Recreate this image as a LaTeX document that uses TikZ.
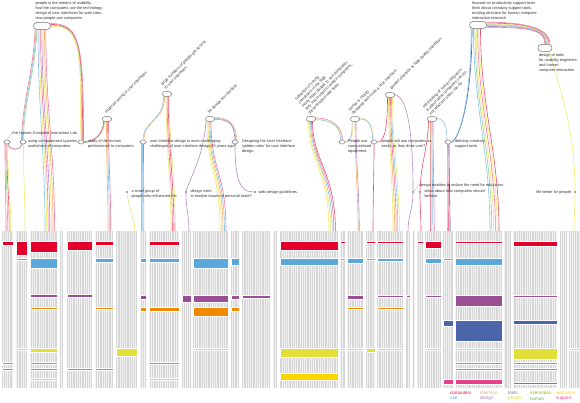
\documentclass[tikz,border=0pt]{standalone}
\usepackage{fontspec}
\newfontfamily\labfont{Liberation Sans}
\usetikzlibrary{calc}
\pgfdeclarelayer{bg}
\pgfsetlayers{bg,main}
\definecolor{pinkS}{HTML}{F07AA0}
\definecolor{redS}{HTML}{E8506E}
\definecolor{blueS}{HTML}{8CC6EA}
\definecolor{yellowS}{HTML}{F2EA70}
\definecolor{greenS}{HTML}{9ED08E}
\definecolor{orangeS}{HTML}{F5B56A}
\definecolor{purpleS}{HTML}{BB88C8}
\definecolor{navyS}{HTML}{3E5BA8}
\definecolor{cRed}{HTML}{E2002B}
\definecolor{cBlue}{HTML}{5BA7D9}
\definecolor{cPurple}{HTML}{9A4E94}
\definecolor{cOrange}{HTML}{F18A00}
\definecolor{cNavy}{HTML}{4A66A8}
\definecolor{cYellow}{HTML}{E3DF3A}
\definecolor{cOlive}{HTML}{B3A800}
\definecolor{cGreen}{HTML}{6AAF5B}
\definecolor{cGold}{HTML}{FDD300}
\definecolor{cPink}{HTML}{E6428B}
\definecolor{colbg}{HTML}{F2F2F2}
\definecolor{stripec}{HTML}{D6D6D6}
\definecolor{pillc}{HTML}{707070}
\definecolor{txtc}{HTML}{333333}
\newcommand\labf{\labfont\fontsize{3.9}{4.8}\selectfont}
\newcommand\legf{\labfont\fontsize{4.6}{5.2}\selectfont}
\newcommand\strandbundle[9]{%
  \foreach \bcol [count=\bidx from 0] in {#9}{%
    \pgfmathsetmacro\sxa{\bidx*(#2)}%
    \pgfmathsetmacro\sya{\bidx*(#3)}%
    \pgfmathsetmacro\sxb{\bidx*(#7)}%
    \pgfmathsetmacro\syb{\bidx*(#8)}%
    \draw[strand,\bcol] ([shift={(\sxa,\sya)}]#1) .. controls +#4 and +#5 .. ([shift={(\sxb,\syb)}]#6);
  }}
\tikzset{
  pillbase/.style={draw=pillc, fill=white, line width=0.5pt, inner sep=0pt},
  bigpill/.style={pillbase, minimum width=17pt, minimum height=7pt, rounded corners=3.4pt},
  midpill/.style={pillbase, minimum width=9pt, minimum height=4.6pt, rounded corners=2.2pt},
  smallpill/.style={pillbase, minimum width=6.5pt, minimum height=3.6pt, rounded corners=1.7pt},
  marker/.style={fill=gray!70, minimum size=2.2pt, inner sep=0pt},
  lab/.style={font=\labf, text=txtc, inner sep=0.3pt, align=left},
  rlab/.style={lab, rotate=45, anchor=south west},
  legend/.style={font=\legf, inner sep=0.3pt, anchor=west},
  strand/.style={line width=0.6pt, line cap=round},
  leader/.style={draw=gray!60, line width=0.3pt},
  stripe/.style={draw=stripec, line width=0.5pt},
}
\begin{document}
\begin{tikzpicture}[x=1pt,y=-1pt]
\useasboundingbox (0,0) rectangle (580,403);
% ---------- pills ----------
\node[bigpill] (top1) at (42,26) {};
\node[smallpill] (hci) at (7,142) {};
\node[smallpill] (using) at (23,142) {};
\node[smallpill] (study) at (81,142) {};
\node[midpill] (might) at (107,119) {};
\node[midpill] (large) at (167,94) {};
\node[smallpill] (ui) at (143,142) {};
\node[midpill] (forD) at (210,119) {};
\node[smallpill] (golden) at (235,142) {};
\node[midpill] (coll) at (311,119) {};
\node[midpill] (sense) at (355,119) {};
\node[midpill] (greater) at (390,95) {};
\node[smallpill] (people) at (342,142) {};
\node[smallpill] (cars) at (374,142) {};
\node[midpill] (old) at (432,119) {};
\node[smallpill] (defin) at (448,142) {};
\node[bigpill] (focused) at (478,25) {};
\node[bigpill, minimum width=14pt] (tools) at (545,48) {};
% ---------- markers ----------
\node[marker] (small) at (127,192) {};
\node[marker] (rules) at (186,192) {};
\node[marker] (web) at (255,192) {};
\node[marker] (educ) at (413,192) {};
\node[marker] (ideas) at (420,192) {};
\node[marker] (life) at (575,192) {};
% ---------- labels ----------
\node[lab, anchor=north west] (top1lab) at (35,1.5) {people in the notions of usability.\\how the computers use the technology\\design of user interfaces for web sites.\\how people use computers.};
\node[lab, anchor=west] (hcilab) at (12,133) {the Human-Computer Interaction Lab.};
\node[lab, anchor=north west] (usinglab) at (27.5,139.5) {using computerized systems\\usefulness of computers.};
\node[lab, anchor=north west] (studylab) at (87.5,139.5) {study of the human\\performance to computers.};
\node[rlab] (mightlab) at (107,115) {might be wrong in user interfaces};
\node[rlab] (largelab) at (166,90) {large numbers of people get access\\to user interfaces};
\node[lab, anchor=north west] (uilab) at (149.5,139.5) {user interface design is most challenging\\challenges of user interface design 25 years ago?};
\node[rlab] (forDlab) at (210,115) {for design the interface};
\node[lab, anchor=north west] (goldenlab) at (241.5,139.5) {Designing the User Interface'\\'golden rules' for user interface\\design.};
\node[lab, anchor=north west] (smalllab) at (131,189.5) {a small group of\\people who influenced me};
\node[lab, anchor=north west] (ruleslab) at (190,189.5) {design rules\\to resolve issues of personal taste?};
\node[lab, anchor=west] (weblab) at (258,192) {web design guidelines.};
\node[rlab] (colllab) at (310,115) {collection of young\\computers in the high\\many more people to use computers\\very much need to realize computers,\\dissemination with them};
\node[rlab] (senselab) at (354,116) {Sense is mostly\\designed and it has a nice interface};
\node[rlab] (greaterlab) at (392,91) {greater attention to high quality interfaces};
\node[lab, anchor=north west] (peoplelab) at (347.5,139.5) {People use\\computerized\\equipment.};
\node[lab, anchor=north west] (carslab) at (381,139.5) {people will use computers as\\easily as they drive cars?};
\node[rlab] (oldlab) at (431,116) {old thinking of using computers\\is about what computers can do,\\not what the users can do};
\node[lab, anchor=north west] (focusedlab) at (471.5,1.5) {focused on productivity support tools\\think about creativity support tools,\\exciting direction for human computer\\interaction research};
\node[lab, anchor=north west] (toolslab) at (538.5,53.5) {design of tools\\for usability engineers\\and human\\computer interaction};
\node[lab, anchor=north west] (definlab) at (454.5,139.5) {defining creativity\\support tools};
\node[lab, anchor=west] (educlab) at (419,185) {design enables to reduce the need for education.};
\node[lab, anchor=north west] (ideaslab) at (424,189.5) {ideas about how computers should\\behave};
\node[lab, anchor=east] (lifelab) at (572.5,192) {life better for people.};
\draw[leader] (hci.north) -- (hcilab.west);
\draw[leader] (educ.north east) -- (educlab.west);
% ---------- legend ----------
\node[legend, text=cRed!80!pinkS] (lg1) at (449.5,393) {computers};
\node[legend, text=cBlue] (lg2) at (449.5,398.5) {use};
\node[legend, text=orangeS!80!cOrange] (lg3) at (479.5,393) {interface};
\node[legend, text=purpleS!80!cPurple] (lg4) at (479.5,398.5) {design};
\node[legend, text=gray!80!cNavy] (lg5) at (507.5,393) {tools};
\node[legend, text=cYellow] (lg6) at (507.5,398.5) {people};
\node[legend, text=cOlive] (lg7) at (529.5,393) {interaction};
\node[legend, text=cGreen] (lg8) at (529.5,398.5) {human};
\node[legend, text=cGold] (lg9) at (555.5,393) {web sites};
\node[legend, text=cPink] (lg10) at (555.5,398.5) {support};
% ---------- coordinates ----------
\coordinate (b1s) at ([xshift=-7pt]top1.south);
\coordinate (b1e) at ([xshift=-1.5pt]using.north);
\coordinate (b2s) at ([xshift=-4pt]top1.south);
\coordinate (e3) at (45,231);
\coordinate (b3s) at ([shift={(0,-2.5)}]top1.east);
\coordinate (b3e) at ([xshift=2.5pt]study.north);
\coordinate (b4s) at ([xshift=-1.5pt]using.south);
\coordinate (b4e) at ([xshift=1.5pt]hci.south);
\coordinate (b5s) at ([xshift=-2pt]hci.south);
\coordinate (e1) at (6,231);
\coordinate (b6s) at ([xshift=0.5pt]using.south);
\coordinate (e2) at (25,231);
\coordinate (b7s) at ([xshift=-2.5pt]might.south);
\coordinate (b7e) at ([shift={(0,0.5)}]study.east);
\coordinate (b8s) at ([xshift=-0.5pt]might.south);
\coordinate (e6) at (108,231);
\coordinate (b9s) at ([xshift=-2.5pt]large.south);
\coordinate (b9e) at ([xshift=1pt]ui.north);
\coordinate (b10s) at ([xshift=-1pt]large.south);
\coordinate (e9) at (171,231);
\coordinate (b11s) at ([xshift=-1.5pt]ui.south);
\coordinate (e8) at (141.5,231);
\coordinate (e7) at (135,231);
\coordinate (b13s) at ([xshift=-3pt]forD.south);
\coordinate (e11) at (220,231);
\coordinate (b14s) at ([shift={(0,-1.5)}]forD.east);
\coordinate (b14e) at ([xshift=1.5pt]golden.north);
\coordinate (b15s) at ([xshift=-4pt]forD.south);
\coordinate (e10) at (189,231);
\coordinate (b18s) at ([xshift=-2.5pt]coll.south);
\coordinate (e15) at (329,231);
\coordinate (b19s) at ([shift={(0,-1)}]coll.east);
\coordinate (b19e) at ([xshift=0.5pt]people.north);
\coordinate (b20s) at ([xshift=-2pt]sense.south);
\coordinate (b20e) at ([shift={(0,0.5)}]people.east);
\coordinate (b21s) at (sense.south);
\coordinate (e17) at (358,231);
\coordinate (b22s) at ([shift={(0,-1)}]sense.east);
\coordinate (b22e) at ([xshift=-0.5pt]cars.north);
\coordinate (b23s) at ([xshift=-2.5pt]greater.south);
\coordinate (b24s) at ([xshift=-1.5pt]greater.south);
\coordinate (e19) at (393,231);
\coordinate (b25s) at ([shift={(0,-0.5)}]greater.east);
\coordinate (e20) at (408,231);
\coordinate (e18) at (373,231);
\coordinate (b29s) at ([xshift=-2pt]old.south);
\coordinate (e23) at (430,231);
\coordinate (b30s) at ([shift={(0,-0.5)}]old.east);
\coordinate (b30e) at ([xshift=-1pt]defin.north);
\coordinate (b31s) at ([xshift=-3.5pt]old.south);
\coordinate (e22) at (421,231);
\coordinate (b33s) at ([xshift=-1pt]defin.south);
\coordinate (e24) at (447,231);
\coordinate (b34s) at ([xshift=-6pt]focused.south);
\coordinate (b34e) at ([shift={(0,0.4)}]defin.east);
\coordinate (b35s) at ([xshift=-4.5pt]focused.south);
\coordinate (e25) at (490,231);
\coordinate (b36s) at ([shift={(0,-2.8)}]focused.east);
\coordinate (b36e) at ([xshift=5pt]tools.north);
\coordinate (b37s) at ([xshift=4pt]tools.south);
\coordinate (e29) at (574,231);
\begin{pgfonlayer}{bg}
\fill[white] (0,0) rectangle (580,403);
% ---------- column background ----------
\fill[colbg] (0,231) rectangle (580,388);
\foreach \x in {0.8,2.6,...,580} \draw[stripe] (\x,231) -- (\x,388);
\foreach \a/\b in {0/2,13/16,27/30,57/60,63/67,92/95,113/116,137/140,146/149,179/182,191/193,228/231,239/242,270/273,277/280,338/340,345/347,363/366,375/377,403/406,410/412,415/417,423/425,441/443,453/455,502/504,511/513,557/560,567/569}
  \fill[white] (\a,230) rectangle (\b,389);
% ---------- bars ----------
\foreach \a/\b/\c/\d/\col in {
 2/13/241/245/cRed, 16/27/241/255/cRed, 30/57/241/252/cRed, 67/92/241/250/cRed, 95/113/241/245/cRed,
 149/179/241/245/cRed, 280/338/241/250/cRed, 340/345/241/243/cRed, 366/375/241/243/cRed, 377/403/241/243/cRed,
 417/423/241/243/cRed, 425/441/241/248/cRed, 455/502/241/243/cRed, 513/557/241/246/cRed,
 16/27/258/260/cBlue, 30/57/258/268/cBlue, 95/113/258/262/cBlue, 140/146/258/262/cBlue, 149/179/258/262/cBlue,
 193/228/258/268/cBlue, 231/239/258/265/cBlue, 280/338/258/265/cBlue, 340/345/258/260/cBlue, 347/363/258/263/cBlue,
 366/375/258/260/cBlue, 377/403/258/261/cBlue, 425/441/258/263/cBlue, 443/453/258/260/cBlue, 455/502/258/265/cBlue,
 30/57/294/297/cPurple, 67/92/294/297/cPurple, 140/146/295/299/cPurple, 182/191/295/302/cPurple, 193/228/295/302/cPurple,
 231/239/295/299/cPurple, 242/270/295/298/cPurple, 347/363/295/299/cPurple, 377/403/295/297/cPurple, 406/410/295/297/cPurple,
 425/441/295/297/cPurple, 455/502/295/306/cPurple, 513/557/295/297/cPurple,
 30/57/307/309/cOrange, 95/113/307/309/cOrange, 140/146/307/311/cOrange, 149/179/307/311/cOrange, 193/228/307/316/cOrange,
 231/239/307/311/cOrange, 347/363/307/309/cOrange, 377/403/307/309/cOrange,
 443/453/320/326/cNavy, 455/502/320/341/cNavy, 513/557/320/324/cNavy,
 16/27/348/350/cYellow, 30/57/348/352/cYellow, 116/137/348/356/cYellow, 193/228/348/350/cYellow, 280/338/348/357/cYellow,
 340/345/348/350/cYellow, 347/363/348/350/cYellow, 366/375/348/352/cYellow, 377/403/348/350/cYellow, 425/441/348/350/cYellow,
 455/502/348/350/cYellow, 513/557/348/359/cYellow, 569/580/348/350/cYellow,
 2/13/362/364/cOlive, 30/57/362/364/cOlive, 149/179/362/364/cOlive, 455/502/362/364/cOlive, 513/557/362/364/cOlive,
 2/13/368/370/cGreen, 30/57/368/370/cGreen, 67/92/368/370/cGreen, 95/113/368/370/cGreen, 455/502/368/370/cGreen, 513/557/368/370/cGreen,
 30/57/378/380/cGold, 149/179/378/380/cGold, 280/338/373/380/cGold,
 443/453/379/384/cPink, 455/502/379/384/cPink, 513/557/382/384/cPink}
  \filldraw[fill=\col, draw=white, line width=0.3pt] (\a,\c) rectangle (\b,\d);
% ---------- strands ----------
\strandbundle{b1s}{0.9}{0}{(-1,40)}{(1,-40)}{b1e}{0.9}{0}{pinkS,blueS,greenS}
\strandbundle{b2s}{1.3}{0}{(0,80)}{(0,-80)}{e3}{1.6}{0}{blueS,yellowS,pinkS,purpleS,yellowS,orangeS,pinkS}
\strandbundle{b3s}{0}{0.9}{(30,0)}{(0,-95)}{b3e}{-0.9}{0}{pinkS,redS,greenS,yellowS}
\strandbundle{b4s}{0.8}{0}{(-2,7)}{(2,7)}{b4e}{-0.8}{0}{blueS,pinkS}
\strandbundle{b5s}{0.9}{0}{(0,40)}{(0,-40)}{e1}{1.6}{0}{pinkS,greenS,redS,yellowS}
\strandbundle{b6s}{0}{0}{(0,40)}{(0,-40)}{e2}{0}{0}{yellowS}
\strandbundle{b7s}{-0.9}{0}{(0,12)}{(10,0)}{b7e}{0}{-0.9}{greenS,redS}
\strandbundle{b8s}{1}{0}{(0,40)}{(0,-40)}{e6}{1.4}{0}{orangeS,blueS,pinkS}
\strandbundle{b9s}{-0.9}{0}{(0,25)}{(0,-20)}{b9e}{-0.9}{0}{orangeS,blueS}
\strandbundle{b10s}{1.1}{0}{(0,50)}{(0,-50)}{e9}{1.5}{0}{yellowS,pinkS,redS,yellowS}
\strandbundle{b11s}{1}{0}{(0,30)}{(0,-30)}{e8}{1.2}{0}{orangeS,blueS,purpleS}
\strandbundle{small.south}{0}{0}{(2,15)}{(-1,-15)}{e7}{0}{0}{yellowS}
\strandbundle{b13s}{1}{0}{(0,50)}{(0,-60)}{e11}{1.5}{0}{yellowS,yellowS,orangeS,blueS,pinkS}
\strandbundle{b14s}{0}{0.9}{(15,0)}{(0,-15)}{b14e}{-0.9}{0}{orangeS,blueS,purpleS}
\strandbundle{b15s}{0}{0}{(-2,30)}{(8,-20)}{rules.north}{0}{0}{purpleS}
\strandbundle{rules.south}{0}{0}{(0,15)}{(0,-15)}{e10}{0}{0}{purpleS}
\strandbundle{golden.south}{0}{0}{(0,40)}{(-12,0)}{web.west}{0}{0}{purpleS}
\strandbundle{b18s}{1}{0}{(0,40)}{(0,-60)}{e15}{1.6}{0}{yellowS,yellowS,blueS,pinkS,redS}
\strandbundle{b19s}{0}{0.9}{(18,0)}{(0,-12)}{b19e}{-0.9}{0}{pinkS,yellowS,blueS}
\strandbundle{b20s}{-0.9}{0}{(0,12)}{(6,0)}{b20e}{0}{-0.9}{yellowS,blueS}
\strandbundle{b21s}{1}{0}{(0,40)}{(0,-40)}{e17}{1.3}{0}{orangeS,purpleS}
\strandbundle{b22s}{0}{0.9}{(10,0)}{(0,-12)}{b22e}{-0.9}{0}{yellowS,blueS}
\strandbundle{b23s}{0}{0}{(0,35)}{(6,0)}{cars.east}{0}{0}{redS}
\strandbundle{b24s}{1}{0}{(0,50)}{(0,-50)}{e19}{1.6}{0}{yellowS,orangeS,pinkS,blueS,yellowS}
\strandbundle{b25s}{0}{0}{(14,2)}{(0,-50)}{educ.north}{0}{0}{purpleS}
\strandbundle{educ.south}{0}{0}{(0,15)}{(0,-15)}{e20}{0}{0}{purpleS}
\strandbundle{cars.south}{0}{0}{(0,30)}{(0,-30)}{e18}{0}{0}{redS}
\strandbundle{b29s}{1}{0}{(0,40)}{(0,-40)}{e23}{1.4}{0}{redS,yellowS,blueS,pinkS}
\strandbundle{b30s}{0}{0}{(8,0)}{(0,-12)}{b30e}{0}{0}{blueS}
\strandbundle{b31s}{0}{0}{(-1,30)}{(1,-30)}{ideas.north}{0}{0}{redS}
\strandbundle{ideas.south}{0}{0}{(0,15)}{(0,-15)}{e22}{0}{0}{redS}
\strandbundle{b33s}{1}{0}{(0,30)}{(0,-30)}{e24}{1.5}{0}{blueS,pinkS,navyS}
\strandbundle{b34s}{-0.9}{0}{(0,70)}{(8,-3)}{b34e}{0}{-0.9}{navyS,blueS}
\strandbundle{b35s}{1.4}{0}{(0,80)}{(0,-80)}{e25}{1.8}{0}{blueS,greenS,yellowS,pinkS,yellowS,redS}
\strandbundle{b36s}{0}{0.85}{(45,0)}{(0,-14)}{b36e}{-0.85}{0}{pinkS,redS,yellowS,greenS,blueS,purpleS,pinkS}
\strandbundle{b37s}{0}{0}{(12,40)}{(0,-60)}{life.north}{0}{0}{yellowS}
\strandbundle{life.south}{0}{0}{(0,15)}{(0,-15)}{e29}{0}{0}{yellowS}
\end{pgfonlayer}
\end{tikzpicture}
\end{document}
